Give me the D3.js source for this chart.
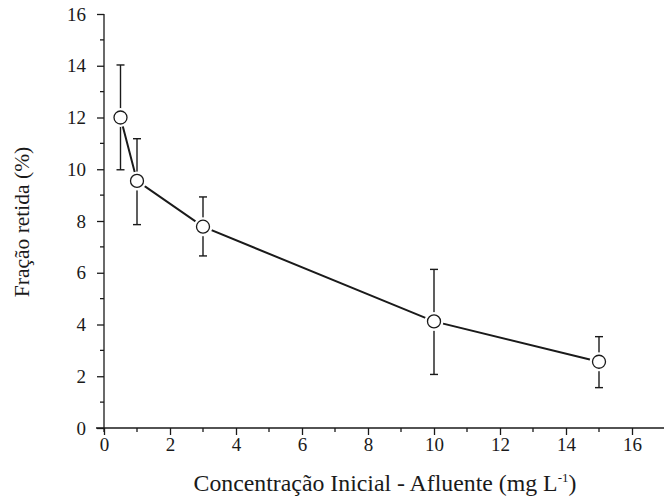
<!DOCTYPE html>
<html>
<head>
<meta charset="utf-8">
<script src="https://cdn.jsdelivr.net/npm/d3@7"></script>
<style>
  body { margin: 0; background: #fff; }
  svg text { font-family: "Liberation Serif", "Times New Roman", Times, serif; fill: #1a1a1a; }
</style>
</head>
<body>
<div id="chart"></div>
<script>
// dados
const concentracao = [0.5, 1, 3, 10, 15];
const fracaoRetida = [12.0, 9.55, 7.78, 4.12, 2.56];
const erroSup = [14.03, 11.18, 8.93, 6.13, 3.53];
const erroInf = [9.98, 7.86, 6.65, 2.07, 1.56];
const xTicks = [0, 2, 4, 6, 8, 10, 12, 14, 16];
const yTicks = [0, 2, 4, 6, 8, 10, 12, 14, 16];

const data = concentracao.map((c, i) => ({
  x: c, y: fracaoRetida[i], hi: erroSup[i], lo: erroInf[i]
}));

const W = 664, H = 501;
const margin = { top: 14, right: 0, bottom: 73, left: 104 };
const width = 561, height = 414;
const ink = "#1a1a1a";
const serif = '"Liberation Serif", "Times New Roman", serif';

const svg = d3.select("#chart").append("svg")
  .attr("width", W).attr("height", H);

const g = svg.append("g")
  .attr("transform", `translate(${margin.left},${margin.top})`);

const x = d3.scaleLinear().domain([0, 17]).range([0, width]);
const y = d3.scaleLinear().domain([0, 16]).range([height, 0]);

// eixos
const xAxis = g.append("g")
  .attr("transform", `translate(0,${height})`)
  .call(d3.axisBottom(x).tickValues(xTicks).tickSize(7).tickPadding(3).tickSizeOuter(0))
  .attr("font-family", serif)
  .attr("font-size", 19);
xAxis.select(".domain").attr("d", `M-8,0H${width}`);

// ticks menores em x
g.append("g").attr("transform", `translate(0,${height})`)
  .selectAll("line").data(d3.range(1, 17, 2)).enter().append("line")
  .attr("x1", d => x(d)).attr("x2", d => x(d))
  .attr("y1", 0).attr("y2", 4)
  .attr("stroke", ink).attr("stroke-width", 1.3);

const yAxis = g.append("g")
  .call(d3.axisLeft(y).tickValues(yTicks).tickSize(7).tickPadding(11).tickSizeOuter(0))
  .attr("font-family", serif)
  .attr("font-size", 19);
yAxis.select(".domain").attr("d", `M0,0V${height + 4}`);

g.append("g")
  .selectAll("line").data(d3.range(1, 16, 2)).enter().append("line")
  .attr("x1", 0).attr("x2", -4)
  .attr("y1", d => y(d)).attr("y2", d => y(d))
  .attr("stroke", ink).attr("stroke-width", 1.3);

g.selectAll(".domain, .tick line").attr("stroke", ink).attr("stroke-width", 1.3);
g.selectAll(".tick text").style("font-size", "19px");

// títulos dos eixos
svg.append("text")
  .attr("transform", `translate(29,222) rotate(-90)`)
  .attr("text-anchor", "middle")
  .style("font-size", "21.5px")
  .text("Fração retida (%)");

const xt = svg.append("text")
  .attr("x", 385).attr("y", 491)
  .attr("text-anchor", "middle")
  .style("font-size", "23.8px");
xt.append("tspan").text("Concentração Inicial - Afluente (mg L");
xt.append("tspan").attr("dy", -9).style("font-size", "13px").text("-1");
xt.append("tspan").attr("dy", 9).text(")");

// barras de erro
const eb = g.append("g").attr("stroke", ink).attr("stroke-width", 1.4);
eb.selectAll(".vert").data(data).enter().append("line")
  .attr("x1", d => x(d.x)).attr("x2", d => x(d.x))
  .attr("y1", d => y(d.hi)).attr("y2", d => y(d.lo));
eb.selectAll(".capHi").data(data).enter().append("line")
  .attr("x1", d => x(d.x) - 4).attr("x2", d => x(d.x) + 4)
  .attr("y1", d => y(d.hi)).attr("y2", d => y(d.hi));
eb.selectAll(".capLo").data(data).enter().append("line")
  .attr("x1", d => x(d.x) - 4).attr("x2", d => x(d.x) + 4)
  .attr("y1", d => y(d.lo)).attr("y2", d => y(d.lo));

// linha
const line = d3.line().x(d => x(d.x)).y(d => y(d.y));
g.append("path").datum(data)
  .attr("d", line)
  .attr("fill", "none")
  .attr("stroke", ink)
  .attr("stroke-width", 2);

// pontos (com halo branco)
g.selectAll(".halo").data(data).enter().append("circle")
  .attr("cx", d => x(d.x)).attr("cy", d => y(d.y))
  .attr("r", 9.5).attr("fill", "#fff");
g.selectAll(".ponto").data(data).enter().append("circle")
  .attr("cx", d => x(d.x)).attr("cy", d => y(d.y))
  .attr("r", 6.5)
  .attr("fill", "#fff")
  .attr("stroke", ink)
  .attr("stroke-width", 1.3);
</script>
</body>
</html>
